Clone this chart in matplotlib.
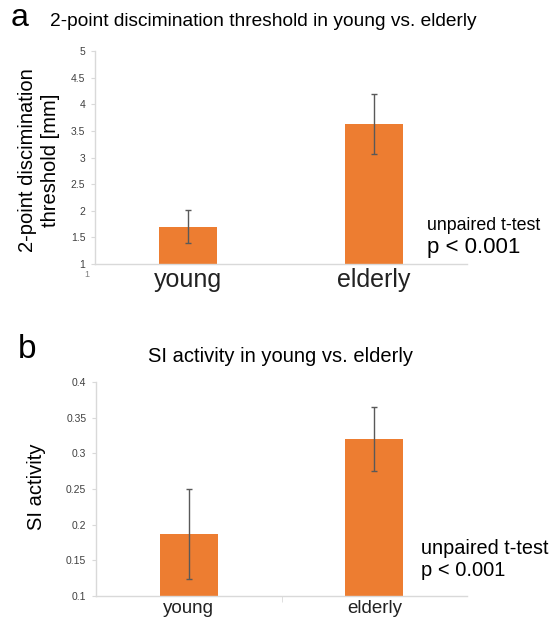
import numpy as np
import matplotlib
matplotlib.use("Agg")
import matplotlib.pyplot as plt

plt.rcParams['font.family'] = ['Liberation Sans', 'DejaVu Sans']

# data
groups = ['young', 'elderly']
threshold_mean = [1.70, 3.63]
threshold_err = [0.31, 0.56]
si_mean = [0.187, 0.320]
si_err = [0.063, 0.045]

W, H = 553, 623
BAR = '#ED7D31'
AXC = '#d9d9d9'
TXT = '#404040'


def fx(px):
    return px / W


def fy(py):
    return 1 - py / H


fig = plt.figure(figsize=(W / 100, H / 100), dpi=100)

ax_a = fig.add_axes([fx(95), fy(264), fx(467) - fx(95), fy(51) - fy(264)])
ax_b = fig.add_axes([fx(96), fy(596), fx(467) - fx(96), fy(382) - fy(596)])


def style(ax, yticks, ylabels, xfs):
    x = np.arange(len(groups))
    ax.set_xlim(-0.5, 1.5)
    for s in ['top', 'right']:
        ax.spines[s].set_visible(False)
    for s in ['left', 'bottom']:
        ax.spines[s].set_color(AXC)
        ax.spines[s].set_linewidth(1)
    ax.set_yticks(yticks)
    ax.set_yticklabels(ylabels, fontsize=7.5, color=TXT)
    ax.tick_params(axis='y', length=3, color=AXC, pad=4)
    ax.set_xticks(x)
    ax.set_xticklabels(groups, fontsize=xfs, color='#222222')
    ax.tick_params(axis='x', length=0, pad=3)


x = np.arange(len(groups))
ax_a.bar(x, threshold_mean, width=0.31, color=BAR)
ax_a.errorbar(x, threshold_mean, yerr=threshold_err, fmt='none',
              ecolor='#595959', elinewidth=1, capsize=2.5, capthick=1)
ax_a.set_ylim(1, 5)
yt_a = np.arange(1, 5.01, 0.5)
style(ax_a, yt_a, ['{:g}'.format(v) for v in yt_a], 18)

ax_b.bar(x, si_mean, width=0.31, color=BAR)
ax_b.errorbar(x, si_mean, yerr=si_err, fmt='none',
              ecolor='#595959', elinewidth=1, capsize=2.5, capthick=1)
ax_b.set_ylim(0.1, 0.4)
yt_b = np.arange(0.1, 0.401, 0.05)
style(ax_b, yt_b, ['{:g}'.format(round(v, 2)) for v in yt_b], 13.5)
ax_b.set_xticks([0.5], minor=True)
ax_b.tick_params(axis='x', which='minor', length=4, color=AXC, direction='out')

# panel letters and titles
fig.text(fx(11), fy(18), 'a', fontsize=23, va='center', ha='left')
fig.text(fx(50), fy(21), '2-point discimination threshold in young vs. elderly',
         fontsize=13.8, va='center', ha='left')
fig.text(fx(18), fy(350), 'b', fontsize=24, va='center', ha='left')
fig.text(fx(280), fy(357), 'SI activity in young vs. elderly',
         fontsize=14.5, va='center', ha='center')

# y labels
fig.text(fx(39), fy(160), '2-point discimination\nthreshold [mm]', fontsize=14.5,
         rotation=90, va='center', ha='center', linespacing=1.3)
fig.text(fx(37), fy(487), 'SI activity', fontsize=14.5,
         rotation=90, va='center', ha='center')

# stray axis label in panel a
fig.text(fx(87), fy(274), '1', fontsize=6.5, color='#808080', va='center', ha='center')

# statistics notes
fig.text(fx(427), fy(225), 'unpaired t-test', fontsize=12.8, va='center', ha='left')
fig.text(fx(427), fy(247), 'p < 0.001', fontsize=16, va='center', ha='left')
fig.text(fx(421), fy(548), 'unpaired t-test', fontsize=14.3, va='center', ha='left')
fig.text(fx(421), fy(571), 'p < 0.001', fontsize=14.5, va='center', ha='left')

fig.savefig('out.png', dpi=100)
